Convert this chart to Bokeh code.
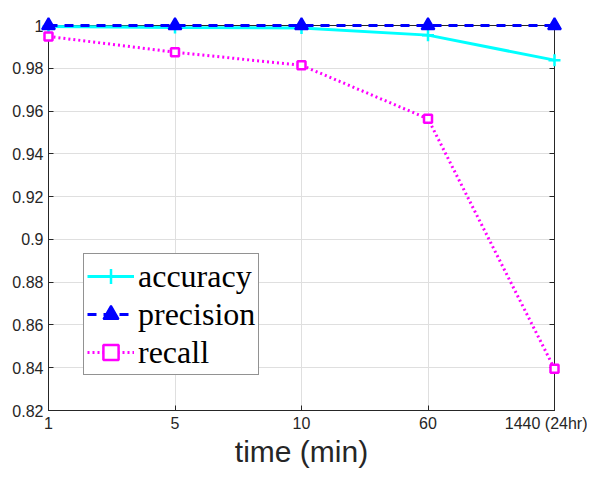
from bokeh.plotting import figure
from bokeh.models import FixedTicker, Legend, LegendItem, Range1d, LinearAxis
from bokeh.embed import file_html
from bokeh.resources import INLINE

categories = ["1", "5", "10", "60", "1440 (24hr)"]
accuracy = [0.9995, 0.9991, 0.9988, 0.9955, 0.9838]
precision = [1.0, 1.0, 1.0, 1.0, 1.0]
recall = [0.9949, 0.9875, 0.9814, 0.9564, 0.8395]
y_ticks = [0.82, 0.84, 0.86, 0.88, 0.9, 0.92, 0.94, 0.96, 0.98, 1.0]
y_tick_labels = ["0.82", "0.84", "0.86", "0.88", "0.9", "0.92", "0.94", "0.96", "0.98", "1"]

xs = list(range(len(categories)))

p = figure(width=587, height=470, output_backend="svg", toolbar_location=None,
           x_range=Range1d(0, len(categories) - 1), y_range=Range1d(0.82, 1.0),
           min_border_left=48, min_border_top=25, min_border_right=33, min_border_bottom=57)

p.outline_line_color = "#262626"
p.outline_line_width = 1
p.background_fill_color = "white"
p.border_fill_color = "white"

for ax in (p.xaxis[0], p.yaxis[0]):
    ax.axis_line_color = "#262626"
    ax.major_tick_line_color = "#262626"
    ax.major_tick_in = 5
    ax.major_tick_out = 0
    ax.minor_tick_line_color = None
    ax.major_label_text_font = "Liberation Sans"
    ax.major_label_text_font_size = "16px"
    ax.major_label_text_color = "#262626"

p.xaxis.ticker = FixedTicker(ticks=xs)
p.xaxis.major_label_overrides = {i: c for i, c in enumerate(categories)}
p.xaxis.axis_label = "time (min)"
p.xaxis.axis_label_text_font = "Liberation Sans"
p.xaxis.axis_label_text_font_size = "30px"
p.xaxis.axis_label_text_font_style = "normal"
p.xaxis.axis_label_text_color = "#262626"
p.xaxis.axis_label_standoff = 0
p.xaxis.major_label_standoff = 4

p.yaxis.ticker = FixedTicker(ticks=y_ticks)
p.yaxis.major_label_overrides = {t: l for t, l in zip(y_ticks, y_tick_labels)}
p.yaxis.major_label_standoff = 5

p.xgrid.ticker = FixedTicker(ticks=xs)
p.ygrid.ticker = FixedTicker(ticks=y_ticks)
p.grid.grid_line_color = "#dfdfdf"
p.grid.grid_line_width = 1

# right axis ticks (box), labels hidden
rax = LinearAxis(ticker=FixedTicker(ticks=y_ticks), major_label_text_color=None,
                 major_label_text_font_size="8px",
                 axis_line_color="#262626", major_tick_line_color="#262626",
                 major_tick_in=5, major_tick_out=0, minor_tick_line_color=None)
p.add_layout(rax, "right")

lvl = "overlay"
l1 = p.line(xs, accuracy, line_color="#00FFFF", line_width=3, level=lvl)
m1 = p.scatter(xs, accuracy, marker="cross", size=12, line_color="#00FFFF", line_width=2.5, level=lvl)

l2 = p.line(xs, precision, line_color="#0000FF", line_width=3, line_dash="9 7", level=lvl)
m2 = p.scatter(xs, precision, marker="triangle", size=13, line_color="#0000FF",
               fill_color="#0000FF", line_width=2, level=lvl)

l3 = p.line(xs, recall, line_color="#FF00FF", line_width=3, line_dash="2 3", level=lvl)
m3 = p.scatter(xs, recall, marker="square", size=8, line_color="#FF00FF",
               fill_color="white", line_width=2.5, level=lvl)

legend = Legend(items=[
    LegendItem(label="accuracy", renderers=[l1, m1]),
    LegendItem(label="precision", renderers=[l2, m2]),
    LegendItem(label="recall", renderers=[l3, m3]),
], location=(35, 35))
legend.label_text_font = "Liberation Serif"
legend.label_text_font_size = "32px"
legend.label_text_color = "black"
legend.border_line_color = "#262626"
legend.border_line_width = 1
legend.background_fill_color = "white"
legend.background_fill_alpha = 1.0
legend.glyph_width = 47
legend.glyph_height = 38
legend.label_height = 38
legend.spacing = 0
legend.padding = 3
legend.margin = 0
legend.label_standoff = 4
p.add_layout(legend, "center")

open("out.html", "w").write(file_html(p, INLINE))
